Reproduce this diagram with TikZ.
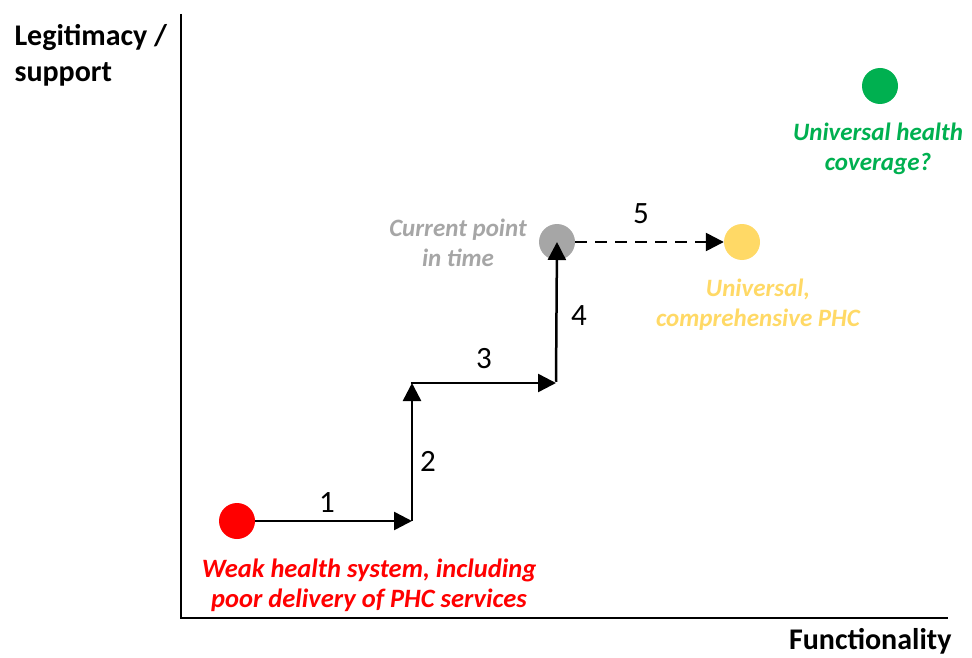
\documentclass[tikz,border=0pt]{standalone}
\usepackage{fontspec}
\setmainfont{Carlito}
\usetikzlibrary{arrows.meta}
\definecolor{cred}{RGB}{255,0,0}
\definecolor{cgray}{RGB}{166,166,166}
\definecolor{cyel}{RGB}{255,217,102}
\definecolor{cgreen}{RGB}{0,176,80}
\tikzset{
  dot/.style={circle,inner sep=0pt,minimum size=36pt},
  axis/.style={line width=2.2pt},
  steparrow/.style={line width=2.5pt,-{Triangle[length=18pt,width=18pt]}},
  num/.style={font=\fontsize{31}{36}\selectfont},
  lab/.style={font=\fontsize{25}{30}\selectfont\bfseries\itshape,align=center},
  axlab/.style={font=\fontsize{30}{36}\selectfont\bfseries,align=left}
}
\begin{document}
\begin{tikzpicture}[x=1pt,y=-1pt]
\useasboundingbox (0,0) rectangle (972,658);
% axes
\coordinate (top) at (181,14);
\coordinate (origin) at (181,618);
\coordinate (right) at (948,618);
\draw[axis] (top) -- (origin) -- (right);
\node[axlab,anchor=west] (ylab) at (11,55) {Legitimacy /\\support};
\node[axlab,anchor=east] (xlab) at (955,641) {Functionality};
% dots
\node[dot,fill=cred] (red) at (237,521) {};
\node[dot,fill=cgray] (gray) at (557,242) {};
\node[dot,fill=cyel] (yel) at (742,242) {};
\node[dot,fill=cgreen] (green) at (880,86) {};
% corners
\coordinate (c1) at (412,521);
\coordinate (c2) at (412,383);
\coordinate (c3) at (556,383);
% arrows
\draw[steparrow] (red.east) -- (c1);
\draw[line width=2.5pt] (c1) -- ([yshift=1.25pt]c1);
\draw[steparrow] (c1) -- (c2);
\draw[steparrow] ([xshift=-1.25pt]c2) -- (c3);
\draw[steparrow] ([yshift=1.25pt]c3) -- (gray.center);
\draw[steparrow,dash pattern=on 12pt off 8pt] (gray.east) -- (yel.west);
% numbers
\node[num] (n1) at (327,503) {1};
\node[num] (n2) at (428,461) {2};
\node[num] (n3) at (484,359) {3};
\node[num] (n4) at (579,316) {4};
\node[num] (n5) at (641,214) {5};
% labels
\node[lab,text=cred,font=\fontsize{26.5}{30}\selectfont\bfseries\itshape] (lred) at (369,585) {Weak health system, including\\poor delivery of PHC services};
\node[lab,text=cgray] (lgray) at (458,243) {Current point\\in time};
\node[lab,text=cyel] (lyel) at (758,305) {Universal,\\comprehensive PHC};
\node[lab,text=cgreen] (lgreen) at (878,149) {Universal health\\coverage?};
\end{tikzpicture}
\end{document}
